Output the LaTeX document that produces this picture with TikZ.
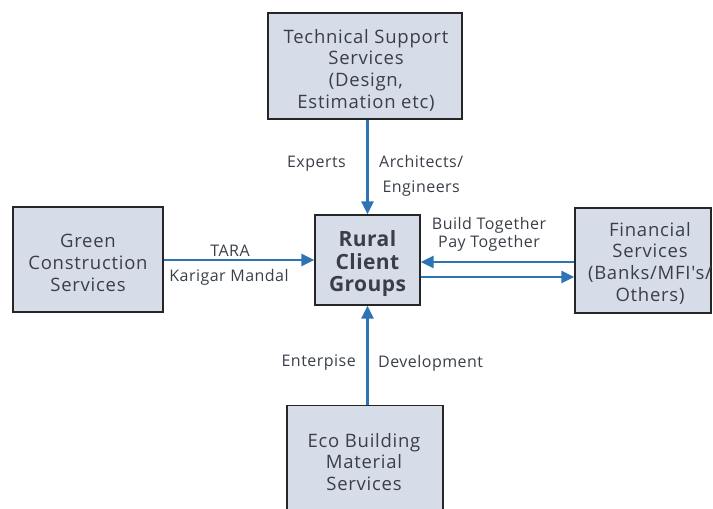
\documentclass[tikz,border=0pt]{standalone}
\usepackage{fontspec}
\setmainfont{Open Sans}
\usetikzlibrary{arrows.meta}
\definecolor{boxfill}{HTML}{D6DDE9}
\definecolor{arrowblue}{HTML}{2E74B5}
\definecolor{txt}{HTML}{3A3F47}
\newfontfamily\boxfont[LetterSpace=4]{Open Sans}
\newfontfamily\lblfont[LetterSpace=3]{Open Sans}
\newfontfamily\ruralfont[LetterSpace=2]{Open Sans}
\begin{document}
\begin{tikzpicture}[x=1pt,y=-1pt,
  box/.style={draw=black!85,line width=1.3pt,fill=boxfill,inner sep=0pt},
  boxtext/.style={text=txt,align=center,inner sep=0pt,font=\boxfont\fontsize{18.5}{21.7}\selectfont},
  conn/.style={draw=arrowblue,line width=2.6pt,-{Triangle[length=13pt,width=12pt]}},
  lbl/.style={text=txt,font=\lblfont\fontsize{16}{18}\selectfont,inner sep=0pt,align=center}]
\useasboundingbox (0,0) rectangle (713,509);
\node[box,minimum width=194pt,minimum height=106pt] (tech) at (365,66) {};
\node[boxtext] (techtxt) at (366,70) {Technical Support\\Services\\(Design,\\Estimation etc)};
\node[box,minimum width=150pt,minimum height=105pt] (green) at (88,259.5) {};
\node[boxtext] (greentxt) at (88,263) {Green\\Construction\\Services};
\node[box,minimum width=105pt,minimum height=90pt] (rural) at (367.5,260) {};
\node[text=txt,align=center,inner sep=0pt,font=\ruralfont\bfseries\fontsize{21}{22.5}\selectfont] (ruraltxt) at (367.5,264) {Rural\\Client\\Groups};
\node[box,minimum width=136pt,minimum height=105pt] (fin) at (643,260.5) {};
\node[boxtext] (fintxt) at (650,263) {Financial\\Services\\(Banks/MFI's/\\Others)};
\node[box,minimum width=156pt,minimum height=120pt,anchor=north] (eco) at (365,405) {};
\node[boxtext] (ecotxt) at (364,462) {Eco Building\\Material\\Services};
\draw[conn] (tech.south -| rural.north) -- (rural.north);
\draw[conn] (green.east |- 0,260) -- (rural.west |- 0,260);
\draw[conn] (fin.west |- 0,262) -- (rural.east |- 0,262);
\draw[conn] (rural.east |- 0,277) -- (fin.west |- 0,277);
\draw[conn] (eco.north -| rural.south) -- (rural.south);
\node[lbl,anchor=east] (exp) at (346,164) {Experts};
\node[lbl,anchor=west,font=\lblfont\fontsize{16}{25}\selectfont] (arch) at (379,176) {Architects/\\Engineers};
\node[lbl] (tara) at (230,251) {TARA};
\node[lbl] (kar) at (229,277) {Karigar Mandal};
\node[lbl] (build) at (489,234) {Build Together\\Pay Together};
\node[lbl,anchor=east] (ent) at (356,363) {Enterpise};
\node[lbl,anchor=west] (dev) at (378,363) {Development};
\end{tikzpicture}
\end{document}
